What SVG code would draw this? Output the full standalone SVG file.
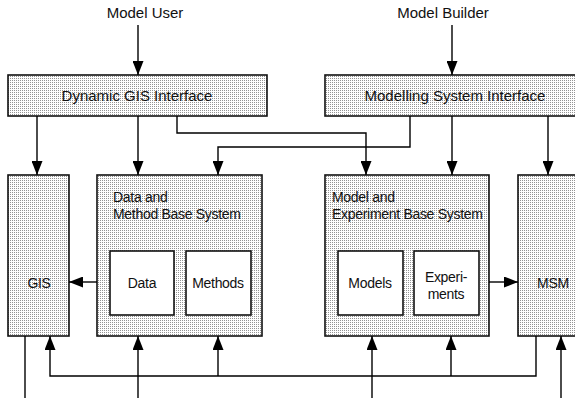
<svg xmlns="http://www.w3.org/2000/svg" width="575" height="398" viewBox="0 0 575 398">
  <style>
    .box { fill: url(#stipple); stroke: #111; stroke-width: 1.6; }
    .inner { fill: #ffffff; stroke: #111; stroke-width: 1.6; }
    .wire { fill: none; stroke: #000; stroke-width: 1.4; }
    .arr { marker-end: url(#head); }
    text { font-family: "Liberation Sans", Arial, sans-serif; fill: #111; }
    .big { font-size: 15px; text-anchor: middle; }
    .lbl { font-size: 14px; letter-spacing: -0.3px; }
    .mid { text-anchor: middle; }
  </style>
  <defs>
    <pattern id="stipple" patternUnits="userSpaceOnUse" width="2" height="2">
      <rect width="2" height="2" fill="#ffffff"/>
      <rect width="1" height="1" fill="#949494"/>
    </pattern>
    <marker id="head" viewBox="0 0 14 11" refX="14" refY="5.5" markerWidth="14" markerHeight="11" markerUnits="userSpaceOnUse" orient="auto">
      <path d="M0,0 L14,5.5 L0,11 Z" fill="#000"/>
    </marker>
  </defs>

  <rect width="575" height="398" fill="#ffffff"/>

  <!-- actors -->
  <g id="model-user">
    <text class="big" x="145" y="18">Model User</text>
  </g>
  <g id="model-builder">
    <text class="big" x="443" y="18">Model Builder</text>
  </g>

  <!-- interface bars -->
  <g id="dynamic-gis-interface">
    <rect class="box" x="8" y="75" width="259" height="41"/>
    <text class="big" x="137" y="101">Dynamic GIS Interface</text>
  </g>
  <g id="modelling-system-interface">
    <rect class="box" x="325" y="75" width="260" height="41"/>
    <text class="big" x="455" y="101">Modelling System Interface</text>
  </g>

  <!-- systems -->
  <g id="gis">
    <rect class="box" x="8" y="175" width="61" height="161"/>
    <text class="lbl mid" x="39" y="288">GIS</text>
  </g>
  <g id="data-method-base">
    <rect class="box" x="97" y="175" width="165" height="161"/>
    <text class="lbl" x="113" y="202">Data and</text>
    <text class="lbl" x="113" y="219">Method Base System</text>
  </g>
  <g id="data">
    <rect class="inner" x="110" y="251" width="64" height="64"/>
    <text class="lbl mid" x="142" y="288">Data</text>
  </g>
  <g id="methods">
    <rect class="inner" x="186" y="251" width="65" height="64"/>
    <text class="lbl mid" x="218" y="288">Methods</text>
  </g>
  <g id="model-experiment-base">
    <rect class="box" x="325" y="175" width="164" height="161"/>
    <text class="lbl" x="332" y="202">Model and</text>
    <text class="lbl" x="332" y="219">Experiment Base System</text>
  </g>
  <g id="models">
    <rect class="inner" x="338" y="251" width="65" height="64"/>
    <text class="lbl mid" x="370" y="288">Models</text>
  </g>
  <g id="experiments">
    <rect class="inner" x="414" y="251" width="65" height="64"/>
    <text class="lbl mid" x="446" y="282">Experi-</text>
    <text class="lbl mid" x="446" y="299">ments</text>
  </g>
  <g id="msm">
    <rect class="box" x="518" y="175" width="67" height="161"/>
    <text class="lbl mid" x="553" y="288">MSM</text>
  </g>

  <!-- connectors -->
  <g id="connectors">
    <line class="wire arr" x1="138" y1="25" x2="138" y2="75"/>
    <line class="wire arr" x1="452" y1="25" x2="452" y2="75"/>

    <line class="wire arr" x1="37" y1="116" x2="37" y2="175"/>
    <line class="wire arr" x1="138" y1="116" x2="138" y2="175"/>
    <polyline class="wire arr" points="177,116 177,133 366,133 366,175"/>
    <polyline class="wire arr" points="410,116 410,147 218,147 218,175"/>
    <line class="wire arr" x1="452" y1="116" x2="452" y2="175"/>
    <line class="wire arr" x1="548" y1="116" x2="548" y2="175"/>

    <line class="wire arr" x1="97" y1="282" x2="69" y2="282"/>
    <line class="wire arr" x1="489" y1="282" x2="518" y2="282"/>

    <line class="wire" x1="25" y1="336" x2="25" y2="398"/>
    <polyline class="wire arr" points="536,336 536,376 50,376 50,336"/>
    <line class="wire arr" x1="218" y1="376" x2="218" y2="336"/>
    <line class="wire arr" x1="451" y1="376" x2="451" y2="336"/>
    <line class="wire arr" x1="138" y1="398" x2="138" y2="336"/>
    <line class="wire arr" x1="372" y1="398" x2="372" y2="336"/>
    <line class="wire arr" x1="561" y1="398" x2="561" y2="336"/>
  </g>
</svg>
